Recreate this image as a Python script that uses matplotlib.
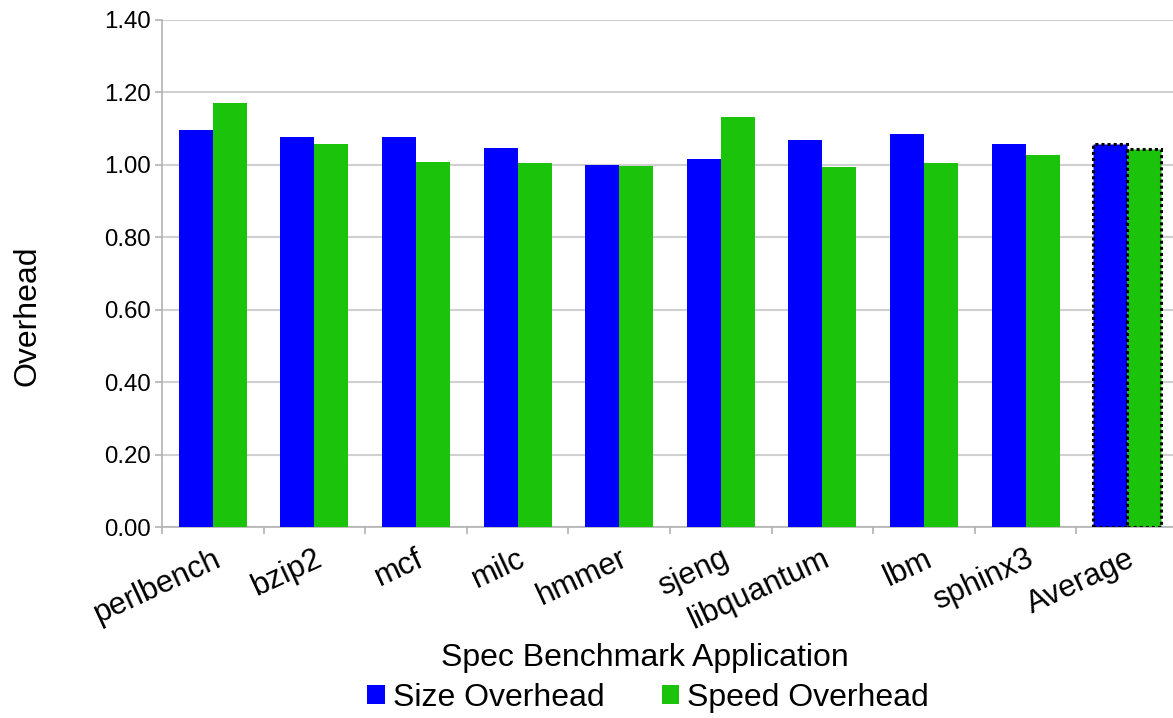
import matplotlib
matplotlib.use("Agg")
import matplotlib.pyplot as plt
import numpy as np

categories = ["perlbench", "bzip2", "mcf", "milc", "hmmer", "sjeng",
              "libquantum", "lbm", "sphinx3", "Average"]
size_overhead = [1.095, 1.077, 1.077, 1.047, 1.000, 1.016, 1.070, 1.086, 1.058, 1.058]
speed_overhead = [1.172, 1.057, 1.008, 1.004, 0.997, 1.132, 0.993, 1.004, 1.026, 1.045]
yticks = [0.0, 0.2, 0.4, 0.6, 0.8, 1.0, 1.2, 1.4]
series_names = ["Size Overhead", "Speed Overhead"]

plt.rcParams['font.family'] = ['Liberation Sans', 'DejaVu Sans']

BLUE = "#0000FF"
GREEN = "#1BC40B"
GRAY = "#b3b3b3"

fig = plt.figure(figsize=(11.73, 7.18), dpi=100)
ax = fig.add_axes([162/1173, 1-527/718, 1016/1173, 507/718])

x = np.arange(len(categories))
w = 0.335
b1 = ax.bar(x - w/2, size_overhead, w, color=BLUE, label=series_names[0], zorder=3)
b2 = ax.bar(x + w/2, speed_overhead, w, color=GREEN, label=series_names[1], zorder=3)
for b in (b1[-1], b2[-1]):
    b.set_edgecolor("black")
    b.set_linestyle((0, (1, 1)))
    b.set_linewidth(2.2)

ax.set_xlim(-0.5, len(categories) - 0.5)
ax.set_ylim(0, 1.4)
ax.set_yticks(yticks)
ax.set_yticklabels([f"{v:.2f}" for v in yticks], fontsize=17.3)
ax.yaxis.grid(True, color="#d0d0d0", linewidth=1.5, zorder=0)
ax.set_axisbelow(True)

ax.set_xticks(x)
ax.set_xticklabels(categories, fontsize=22.3, rotation=25, ha='right',
                   rotation_mode='anchor', va='top')
ax.set_xticks(np.arange(len(categories) + 1) - 0.5, minor=True)
ax.tick_params(axis='x', which='major', length=0, pad=12)
ax.tick_params(axis='x', which='minor', length=5, color=GRAY, width=1.2)
ax.tick_params(axis='y', length=5, color=GRAY, width=1.2, pad=3)

for s in ("top", "right"):
    ax.spines[s].set_visible(False)
for s in ("left", "bottom"):
    ax.spines[s].set_color(GRAY)
    ax.spines[s].set_linewidth(1.2)

ax.set_ylabel("Overhead", fontsize=23)
ax.yaxis.set_label_coords(-0.118, 0.416)

fig.text(645/1173, 1-658/718, "Spec Benchmark Application", fontsize=23,
         ha='center', va='center')

fig.legend(handles=[b1[0], b2[0]], labels=series_names, loc='center',
           bbox_to_anchor=(648/1173, 1-698/718), ncol=2, frameon=False,
           fontsize=23, handlelength=0.55, handleheight=0.55,
           handletextpad=0.25, columnspacing=1.8, borderpad=0)

fig.savefig("out.png", dpi=100)
